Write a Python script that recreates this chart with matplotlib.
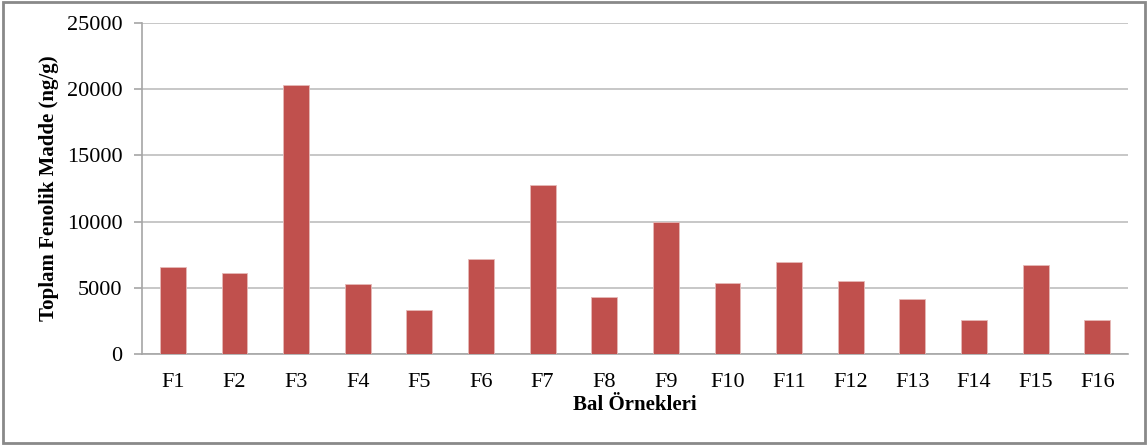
import matplotlib.pyplot as plt
from matplotlib.patches import Rectangle

# Toplam fenolik madde (ng/g), bal örnekleri
samples = ['F1', 'F2', 'F3', 'F4', 'F5', 'F6', 'F7', 'F8',
           'F9', 'F10', 'F11', 'F12', 'F13', 'F14', 'F15', 'F16']
phenolics = [6600, 6150, 20350, 5250, 3300, 7200, 12800, 4300,
             9950, 5330, 6950, 5480, 4150, 2550, 6750, 2550]
y_ticks = [0, 5000, 10000, 15000, 20000, 25000]

plt.rcParams['font.family'] = ['Liberation Serif', 'DejaVu Serif']

fig = plt.figure(figsize=(11.48, 4.45), dpi=100)
ax = fig.add_axes([0.1237, 0.2045, 0.8589, 0.7438])

x = range(len(samples))
ax.bar(x, phenolics, width=0.42, color='#C0504D', edgecolor='#E6B9B8',
       linewidth=0.6, zorder=3)

ax.set_xlim(-0.5, len(samples) - 0.5)
ax.set_ylim(0, 25000)
ax.set_yticks(y_ticks)
ax.set_xticks(list(x))
ax.set_xticklabels(samples)
ax.yaxis.grid(True, color='#BEBEBE', linewidth=1.2, zorder=0)
ax.set_axisbelow(True)

for side in ['top', 'right']:
    ax.spines[side].set_visible(False)
for side in ['left', 'bottom']:
    ax.spines[side].set_color('#A6A6A6')
    ax.spines[side].set_linewidth(1.2)

ax.tick_params(axis='y', length=6, color='#A6A6A6', width=1.2,
               labelsize=16, pad=8)
ax.tick_params(axis='x', length=0, labelsize=16, pad=14)

ax.set_ylabel('Toplam Fenolik Madde (ng/g)', fontsize=15, fontweight='bold',
              labelpad=6)
ax.set_xlabel('Bal Örnekleri', fontsize=15, fontweight='bold', labelpad=2)

# outer chart border
fig.patches.append(Rectangle((0.003, 0.004), 0.994, 0.992, transform=fig.transFigure,
                             fill=False, edgecolor='#898989', linewidth=2))

plt.savefig('out.png', dpi=100)
plt.close()
